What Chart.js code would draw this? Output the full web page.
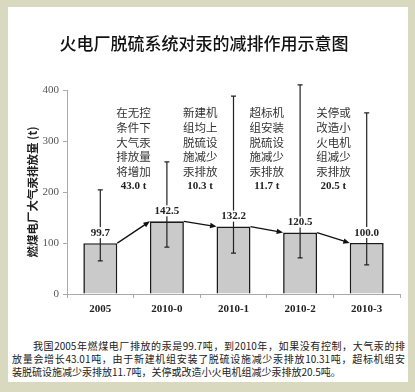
<!DOCTYPE html>
<html>
<head>
<meta charset="utf-8">
<script src="https://cdn.jsdelivr.net/npm/chart.js@4"></script>
<style>
  html, body { margin: 0; padding: 0; width: 415px; height: 392px; overflow: hidden; background: #d9d9bf; }
  #panel { position: absolute; left: 8px; top: 7px; width: 400px; height: 375px; background: #fff; }
  #chart { position: absolute; left: 0; top: 0; }
  #note { position: absolute; left: 4px; top: 332px; width: 393px; font: 10px "Noto Sans CJK SC", sans-serif; line-height: 13px; color: #222; }
  .ln { white-space: nowrap; text-align: justify; text-align-last: justify; }
  .ln.last { text-align-last: left; }
</style>
</head>
<body>
<div id="panel">
  <canvas id="chart" width="400" height="320"></canvas>
  <div id="note">
    <div class="ln" style="text-indent:21px">我国2005年燃煤电厂排放的汞是99.7吨，到2010年，如果没有控制，大气汞的排</div>
    <div class="ln">放量会增长43.01吨，由于新建机组安装了脱硫设施减少汞排放10.31吨，超标机组安</div>
    <div class="ln last">装脱硫设施减少汞排放11.7吨，关停或改造小火电机组减少汞排放20.5吨。</div>
  </div>
</div>
<script>
const categories = ["2005", "2010-0", "2010-1", "2010-2", "2010-3"];
const emission = [99.7, 142.5, 132.2, 120.5, 100.0];
const errLow = [65, 92, 80, 71, 57];
const errHigh = [204, 259, 388, 410, 355];
const valueLabels = ["99.7", "142.5", "132.2", "120.5", "100.0"];

const noteLines = [
  ["在无控", "条件下", "大气汞", "排放量", "将增加"],
  ["新建机", "组均上", "脱硫设", "施减少", "汞排放"],
  ["超标机", "组安装", "脱硫设", "施减少", "汞排放"],
  ["关停或", "改造小", "火电机", "组减少", "汞排放"]
];
const noteAmounts = ["43.0 t", "10.3 t", "11.7 t", "20.5 t"];
const noteTop = 355; // y value of first note line

// arrows, error bars, value labels and notes
const extras = {
  id: "extras",
  afterDatasetsDraw(chart) {
    const ctx = chart.ctx;
    const xs = chart.scales.x;
    const ys = chart.scales.y;
    const bars = chart.getDatasetMeta(0).data;
    ctx.save();

    // arrows between bar tops
    ctx.strokeStyle = "#111";
    ctx.fillStyle = "#111";
    ctx.lineWidth = 1.3;
    for (let i = 0; i < bars.length - 1; i++) {
      const a = bars[i], b = bars[i + 1];
      const x0 = a.x + a.width / 2, y0 = a.y;
      const x1 = b.x - b.width / 2, y1 = b.y;
      const ang = Math.atan2(y1 - y0, x1 - x0);
      ctx.beginPath();
      ctx.moveTo(x0, y0);
      ctx.lineTo(x1 - 5 * Math.cos(ang), y1 - 5 * Math.sin(ang));
      ctx.stroke();
      ctx.beginPath();
      ctx.moveTo(x1, y1);
      ctx.lineTo(x1 - 7 * Math.cos(ang - 0.4), y1 - 7 * Math.sin(ang - 0.4));
      ctx.lineTo(x1 - 7 * Math.cos(ang + 0.4), y1 - 7 * Math.sin(ang + 0.4));
      ctx.closePath();
      ctx.fill();
    }

    // error bars
    ctx.strokeStyle = "#222";
    ctx.lineWidth = 1.2;
    bars.forEach((bar, i) => {
      const yh = ys.getPixelForValue(errHigh[i]);
      const yl = ys.getPixelForValue(errLow[i]);
      ctx.beginPath();
      ctx.moveTo(bar.x, yh); ctx.lineTo(bar.x, yl);
      ctx.moveTo(bar.x - 2.5, yh); ctx.lineTo(bar.x + 2.5, yh);
      ctx.moveTo(bar.x - 2.5, yl); ctx.lineTo(bar.x + 2.5, yl);
      ctx.stroke();
    });

    // value labels with white box
    ctx.font = "bold 11px 'Liberation Serif'";
    ctx.textAlign = "center";
    ctx.textBaseline = "middle";
    bars.forEach((bar, i) => {
      const ly = bar.y - 10;
      const w = ctx.measureText(valueLabels[i]).width + 2;
      ctx.fillStyle = "#fff";
      ctx.fillRect(bar.x - w / 2, ly - 6, w, 11);
      ctx.fillStyle = "#222";
      ctx.fillText(valueLabels[i], bar.x, ly);
    });

    // notes between categories
    const y0 = ys.getPixelForValue(noteTop);
    noteLines.forEach((lines, i) => {
      const cx = (xs.getPixelForValue(i) + xs.getPixelForValue(i + 1)) / 2;
      ctx.fillStyle = "#333";
      ctx.font = "11.5px 'Noto Sans CJK SC'";
      lines.forEach((t, j) => ctx.fillText(t, cx, y0 + j * 14.6));
      ctx.font = "bold 11px 'Liberation Serif'";
      ctx.fillStyle = "#222";
      ctx.fillText(noteAmounts[i], cx, y0 + lines.length * 14.6);
    });

    ctx.restore();
  }
};

new Chart(document.getElementById("chart"), {
  type: "bar",
  data: {
    labels: categories,
    datasets: [{
      data: emission,
      backgroundColor: "#cacaca",
      borderColor: "#1a1a1a",
      borderWidth: 1.6,
      categoryPercentage: 1,
      barPercentage: 0.51
    }]
  },
  options: {
    responsive: false,
    animation: false,
    devicePixelRatio: 1,
    layout: { padding: { left: 0, right: 8, top: 0, bottom: 0 } },
    plugins: {
      legend: { display: false },
      tooltip: { enabled: false },
      title: {
        display: true,
        text: "火电厂脱硫系统对汞的减排作用示意图",
        color: "#111",
        font: { family: "Noto Sans CJK SC", size: 17, weight: "500" },
        padding: { top: 26, bottom: 36.6 }
      }
    },
    scales: {
      x: {
        grid: { drawOnChartArea: false, offset: true, tickLength: 4, color: "#aaa" },
        border: { color: "#aaa" },
        ticks: { color: "#222", font: { family: "Liberation Serif", size: 11, weight: "bold" }, padding: 5 },
        afterFit(s) { s.height = 33; }
      },
      y: {
        min: 0,
        max: 400,
        ticks: { stepSize: 100, color: "#555", font: { family: "Liberation Serif", size: 11 }, padding: 4 },
        grid: { drawOnChartArea: false, tickLength: 4, color: "#aaa" },
        border: { color: "#aaa" },
        title: {
          display: true,
          text: "燃煤电厂大气汞排放量 (t)",
          color: "#222",
          font: { family: "Noto Sans CJK SC", size: 11.5, weight: "bold" },
          padding: { top: 18, bottom: 0 }
        },
        afterFit(s) { s.width = 59; }
      }
    }
  },
  plugins: [extras]
});
</script>
</body>
</html>
